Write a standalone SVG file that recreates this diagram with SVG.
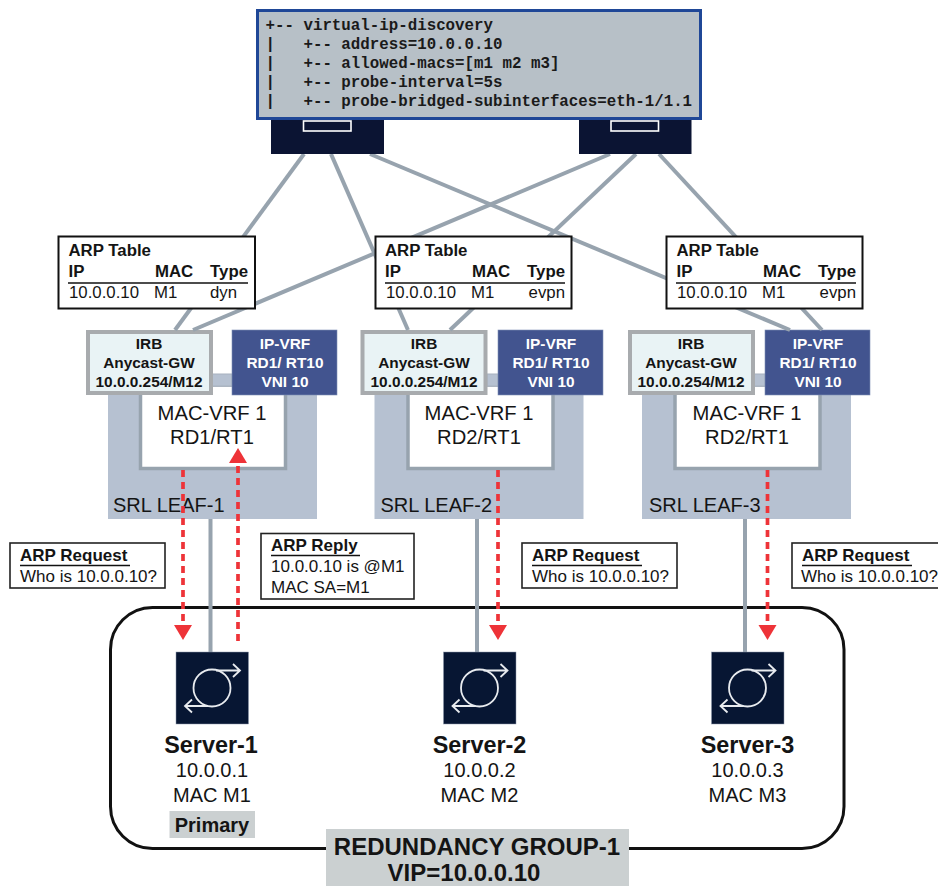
<svg xmlns="http://www.w3.org/2000/svg" width="938" height="886" viewBox="0 0 938 886">
<style>
text{font-family:"Liberation Sans",Arial,sans-serif;fill:#141414}
.b{font-weight:700}
.mono{font-family:"Liberation Mono","Courier New",monospace;font-weight:700;font-size:15.8px;white-space:pre;fill:#1a1a1a}
.t{font-size:16.8px}
.c{font-size:17px}
.m{text-anchor:middle}
.irbt{font-size:15.4px;font-weight:700;text-anchor:middle}
.vrft{font-size:15.4px;font-weight:700;text-anchor:middle;fill:#fff}
.big{font-size:20.2px;text-anchor:middle}
.leaf{fill:#b6c1d1}
.macvrf{fill:#fff;stroke:#97a3ae;stroke-width:3.5}
.irb{fill:#e9f3f5;stroke:#a8abae;stroke-width:4}
.ipvrf{fill:#42548f;stroke:#7f8fb5;stroke-width:.6}
.bar{fill:#b6c1d1;stroke:#a8b2bf;stroke-width:1}
.tbl{fill:#fff;stroke:#111;stroke-width:2}
.call{fill:#fff;stroke:#222;stroke-width:1.6}
.link{stroke:#97a3ae;stroke-width:4;fill:none}
.red{stroke:#ee3338;stroke-width:3.7;stroke-dasharray:7 5;fill:none}
.rule{stroke:#111;stroke-width:1.6}
.spine{fill:#0b1433}
.gray{fill:#cbd0d1}
</style>
<defs>
<marker id="ah" markerUnits="userSpaceOnUse" markerWidth="15" markerHeight="18" refX="0" refY="9" orient="auto" viewBox="0 0 15 18" overflow="visible">
<path d="M0 0L15 9L0 18Z" fill="#ee3338"/>
</marker>
<g id="icon">
<rect x="-36" y="-36" width="72.500" height="72" fill="#071633" stroke="#8c97ab" stroke-width=".5"/>
<g fill="none" stroke="#e8ebef" stroke-width="1.800">
<circle cx="0" cy="0" r="18.500"/>
<path d="M4-17.500H27M21-24L28-17.500L21-11"/>
<path d="M-4 18H-27M-20 11.500L-27 18L-20 24.500"/>
</g>
</g>
</defs>

<g id="redundancy-group">
<rect x="110.500" y="607.500" width="733.500" height="241" rx="42" fill="#fff" stroke="#111" stroke-width="3"/>
<rect x="326" y="829" width="303" height="57" class="gray"/>
<text x="477" y="855" class="b m" font-size="24">REDUNDANCY GROUP-1</text>
<text x="464" y="881" class="b m" font-size="24">VIP=10.0.0.10</text>
</g>

<g id="leaf-1">
<rect x="108" y="390" width="209" height="129" class="leaf"/>
<rect x="140.500" y="385" width="145" height="83.500" class="macvrf"/>
<rect x="212" y="374" width="20" height="12" class="bar"/>
<text x="212" y="420" class="big">MAC-VRF 1</text>
<text x="212" y="444" class="big">RD1/RT1</text>
<text x="113" y="512" font-size="20">SRL LEAF-1</text>
<rect x="88" y="332" width="123" height="61" class="irb"/>
<text x="149" y="349" class="irbt">IRB</text><text x="149" y="368" class="irbt">Anycast-GW</text><text x="149" y="387" class="irbt">10.0.0.254/M12</text>
<rect x="232" y="330" width="105" height="65" class="ipvrf"/>
<text x="285" y="349" class="vrft">IP-VRF</text><text x="285" y="368" class="vrft">RD1/ RT10</text><text x="285" y="387" class="vrft">VNI 10</text>
</g>
<g id="leaf-2">
<rect x="374.500" y="390" width="209" height="129" class="leaf"/>
<rect x="408" y="385" width="145" height="83.500" class="macvrf"/>
<rect x="487" y="374" width="11" height="12" class="bar"/>
<text x="479" y="420" class="big">MAC-VRF 1</text>
<text x="479" y="444" class="big">RD2/RT1</text>
<text x="380.500" y="512" font-size="20">SRL LEAF-2</text>
<rect x="362.500" y="332" width="123" height="61" class="irb"/>
<text x="424" y="349" class="irbt">IRB</text><text x="424" y="368" class="irbt">Anycast-GW</text><text x="424" y="387" class="irbt">10.0.0.254/M12</text>
<rect x="498" y="330" width="105" height="65" class="ipvrf"/>
<text x="551" y="349" class="vrft">IP-VRF</text><text x="551" y="368" class="vrft">RD1/ RT10</text><text x="551" y="387" class="vrft">VNI 10</text>
</g>
<g id="leaf-3">
<rect x="642" y="390" width="209" height="129" class="leaf"/>
<rect x="675" y="385" width="145" height="83.500" class="macvrf"/>
<rect x="754" y="374" width="11" height="12" class="bar"/>
<text x="747" y="420" class="big">MAC-VRF 1</text>
<text x="747" y="444" class="big">RD2/RT1</text>
<text x="649" y="512" font-size="20">SRL LEAF-3</text>
<rect x="630" y="332" width="123" height="61" class="irb"/>
<text x="691" y="349" class="irbt">IRB</text><text x="691" y="368" class="irbt">Anycast-GW</text><text x="691" y="387" class="irbt">10.0.0.254/M12</text>
<rect x="765" y="330" width="105" height="65" class="ipvrf"/>
<text x="818" y="349" class="vrft">IP-VRF</text><text x="818" y="368" class="vrft">RD1/ RT10</text><text x="818" y="387" class="vrft">VNI 10</text>
</g>

<g id="connectors">
<path class="link" d="M304 154L175 330"/>
<path class="link" d="M331 154L408 330"/>
<path class="link" d="M370 154L790 330"/>
<path class="link" d="M610 154L193 330"/>
<path class="link" d="M636 154L450 330"/>
<path class="link" d="M659 154L822 330"/>
<path class="link" d="M210.500 519V652"/>
<path class="link" d="M477 519V652"/>
<path class="link" d="M745 519V652"/>
<path class="red" d="M183 470V625" marker-end="url(#ah)"/>
<path class="red" d="M238 641V463" marker-end="url(#ah)"/>
<path class="red" d="M498 470V625" marker-end="url(#ah)"/>
<path class="red" d="M767.500 470V625" marker-end="url(#ah)"/>
</g>

<g id="spine-1">
<rect x="271" y="115" width="113" height="39" class="spine"/>
<rect x="303.500" y="121" width="47.500" height="10" fill="#0b1433" stroke="#fff" stroke-width="1.600"/>
</g>
<g id="spine-2">
<rect x="579" y="115" width="112.500" height="39" class="spine"/>
<rect x="611" y="121" width="47.500" height="10" fill="#0b1433" stroke="#fff" stroke-width="1.600"/>
</g>
<g id="config">
<rect x="257.500" y="10.500" width="443" height="108" fill="#b7c0c7" stroke="#1f4797" stroke-width="3"/>
<text class="mono" x="265.500" y="30">+-- virtual-ip-discovery</text>
<text class="mono" x="265.500" y="49">|   +-- address=10.0.0.10</text>
<text class="mono" x="265.500" y="68">|   +-- allowed-macs=[m1 m2 m3]</text>
<text class="mono" x="265.500" y="87">|   +-- probe-interval=5s</text>
<text class="mono" x="265.500" y="106">|   +-- probe-bridged-subinterfaces=eth-1/1.1</text>
</g>

<g id="arp-table-1">
<rect x="58.500" y="236.500" width="196.500" height="72" class="tbl"/>
<text x="68.500" y="256" class="t b">ARP Table</text>
<text x="68.500" y="277" class="t b">IP</text><text x="155" y="277" class="t b">MAC</text><text x="248" y="277" class="t b" text-anchor="end">Type</text>
<path class="rule" d="M68 283H248"/>
<text x="69" y="298" class="t">10.0.0.10</text><text x="154" y="298" class="t">M1</text><text x="210" y="298" class="t">dyn</text>
</g>
<g id="arp-table-2">
<rect x="375.500" y="236.500" width="196" height="72" class="tbl"/>
<text x="385" y="256" class="t b">ARP Table</text>
<text x="385" y="277" class="t b">IP</text><text x="472" y="277" class="t b">MAC</text><text x="565" y="277" class="t b" text-anchor="end">Type</text>
<path class="rule" d="M385 283H565"/>
<text x="386" y="298" class="t">10.0.0.10</text><text x="471" y="298" class="t">M1</text><text x="565" y="298" class="t" text-anchor="end">evpn</text>
</g>
<g id="arp-table-3">
<rect x="666.500" y="236.500" width="196" height="72" class="tbl"/>
<text x="676.500" y="256" class="t b">ARP Table</text>
<text x="676.500" y="277" class="t b">IP</text><text x="763" y="277" class="t b">MAC</text><text x="856" y="277" class="t b" text-anchor="end">Type</text>
<path class="rule" d="M676 283H856"/>
<text x="677" y="298" class="t">10.0.0.10</text><text x="762" y="298" class="t">M1</text><text x="856" y="298" class="t" text-anchor="end">evpn</text>
</g>

<g id="callout-request-1">
<rect x="10" y="543" width="155" height="45" class="call"/>
<text x="20" y="561" class="c b">ARP Request</text><path class="rule" d="M20 565.500H130"/>
<text x="20" y="582" class="c">Who is 10.0.0.10?</text>
</g>
<g id="callout-reply">
<rect x="261" y="533.500" width="153" height="65.500" class="call"/>
<text x="271" y="551" class="c b">ARP Reply</text><path class="rule" d="M271 555.500H360"/>
<text x="271" y="572" class="c">10.0.0.10 is @M1</text>
<text x="271" y="593" class="c">MAC SA=M1</text>
</g>
<g id="callout-request-2">
<rect x="522" y="543" width="155" height="45" class="call"/>
<text x="532" y="561" class="c b">ARP Request</text><path class="rule" d="M532 565.500H642"/>
<text x="532" y="582" class="c">Who is 10.0.0.10?</text>
</g>
<g id="callout-request-3">
<rect x="792" y="543" width="155" height="45" class="call"/>
<text x="802" y="561" class="c b">ARP Request</text><path class="rule" d="M802 565.500H912"/>
<text x="801" y="582" class="c">Who is 10.0.0.10?</text>
</g>

<g id="server-1">
<use href="#icon" x="212" y="688"/>
<text x="211" y="753" class="b m" font-size="23.400">Server-1</text>
<text x="212" y="777" class="m" font-size="20">10.0.0.1</text>
<text x="212" y="802" class="m" font-size="20">MAC M1</text>
<rect x="169.500" y="811" width="85.500" height="27" class="gray"/>
<text x="212" y="832" class="b m" font-size="20">Primary</text>
</g>
<g id="server-2">
<use href="#icon" x="479.500" y="688"/>
<text x="479.500" y="753" class="b m" font-size="23.400">Server-2</text>
<text x="479.500" y="777" class="m" font-size="20">10.0.0.2</text>
<text x="479.500" y="802" class="m" font-size="20">MAC M2</text>
</g>
<g id="server-3">
<use href="#icon" x="747.500" y="688"/>
<text x="747.500" y="753" class="b m" font-size="23.400">Server-3</text>
<text x="747.500" y="777" class="m" font-size="20">10.0.0.3</text>
<text x="747.500" y="802" class="m" font-size="20">MAC M3</text>
</g>
</svg>
